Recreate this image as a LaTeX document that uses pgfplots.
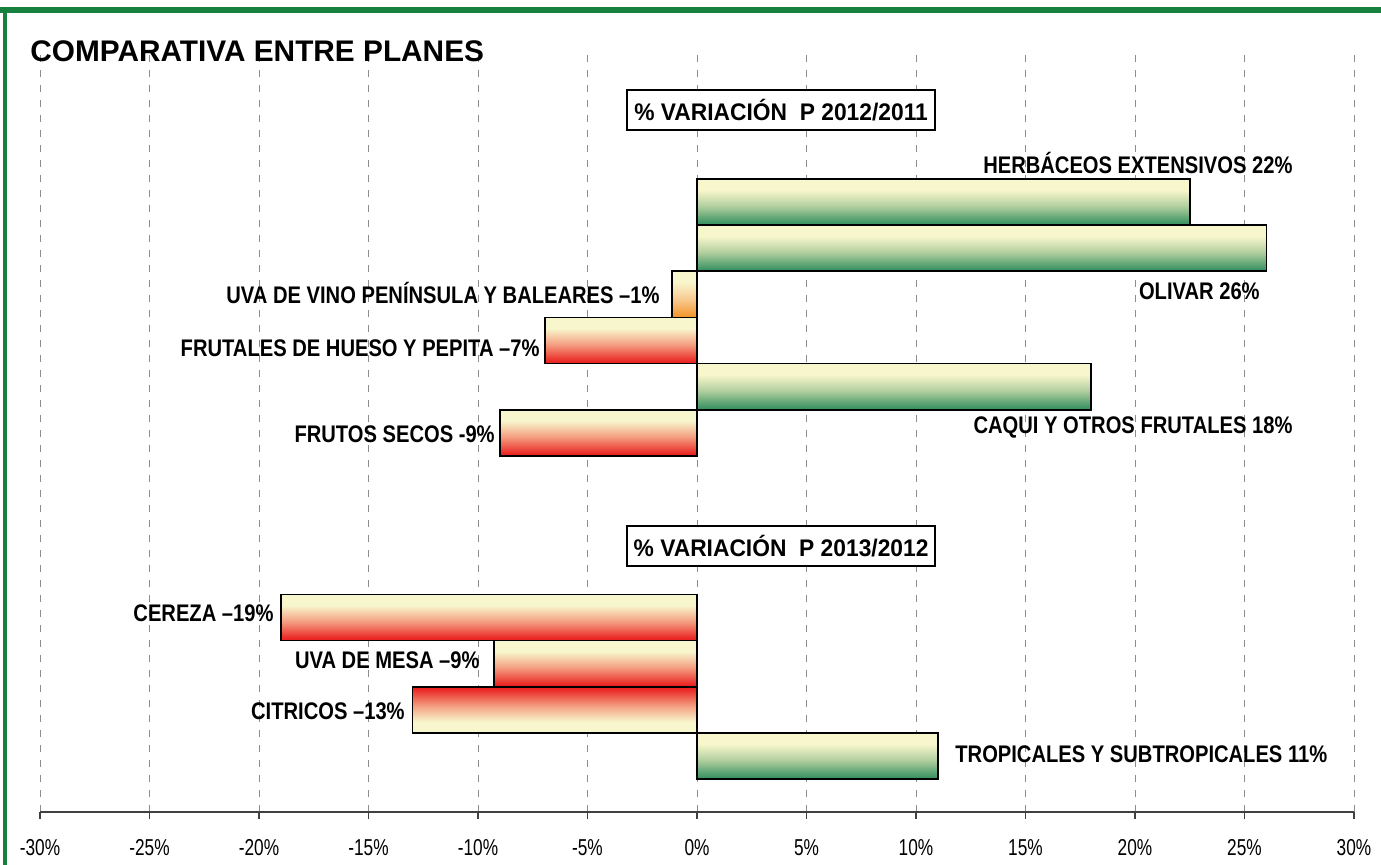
\documentclass[border=0pt]{standalone}
\usepackage{fontspec}
\usepackage{pgfplots}
\pgfplotsset{compat=1.18}
\setmainfont{Liberation Sans}
\newfontfamily\ticknarrow[FakeStretch=0.75]{Liberation Sans}
\newfontfamily\labnarrow[FakeStretch=0.84]{Liberation Sans Bold}
\newfontfamily\boxfont[FakeStretch=0.95]{Liberation Sans Bold}

\definecolor{cream}{RGB}{248,246,204}
\definecolor{gbot}{RGB}{58,146,98}
\definecolor{gmid}{RGB}{180,208,160}
\definecolor{rbot}{RGB}{234,36,34}
\definecolor{rmid}{RGB}{244,160,130}
\definecolor{obot}{RGB}{244,152,50}
\definecolor{omid}{RGB}{247,205,150}
\definecolor{framegreen}{RGB}{24,128,62}

\pgfdeclareverticalshading{greenbar}{100bp}{color(0bp)=(gbot); color(27bp)=(gbot); color(46bp)=(gmid); color(63bp)=(cream); color(100bp)=(cream)}
\pgfdeclareverticalshading{redbar}{100bp}{color(0bp)=(rbot); color(27bp)=(rbot); color(46bp)=(rmid); color(63bp)=(cream); color(100bp)=(cream)}
\pgfdeclareverticalshading{redbarrev}{100bp}{color(0bp)=(cream); color(37bp)=(cream); color(54bp)=(rmid); color(73bp)=(rbot); color(100bp)=(rbot)}
\pgfdeclareverticalshading{orangebar}{100bp}{color(0bp)=(obot); color(27bp)=(obot); color(46bp)=(omid); color(63bp)=(cream); color(100bp)=(cream)}

\begin{document}
\begin{tikzpicture}
\path[use as bounding box] (0,0) rectangle (690.5pt,432.5pt);
\begin{axis}[
  at={(20pt,26.5pt)}, anchor=south west,
  scale only axis, width=657pt, height=381pt,
  xmin=-30, xmax=30, ymin=-812, ymax=-50,
  axis x line*=bottom, axis y line=none,
  axis line style={draw=black!75, line width=0.6pt},
  xtick={-30,-25,-20,-15,-10,-5,0,5,10,15,20,25,30},
  xticklabels={-30\%,-25\%,-20\%,-15\%,-10\%,-5\%,0\%,5\%,10\%,15\%,20\%,25\%,30\%},
  tick align=outside,
  major tick length=3.5pt,
  xtick style={draw=black!75, line width=0.6pt},
  xticklabel style={font=\ticknarrow\fontsize{11.5pt}{13pt}\selectfont, text height=8.2pt, text depth=0pt, inner sep=0pt, anchor=north, yshift=-10pt},
  xmajorgrids,
  major grid style={draw=black!45, line width=0.5pt, dash pattern=on 3.5pt off 4pt},
  clip=false,
  barstyle/.style={xbar, bar width=46.17, bar shift=0pt, draw=black, line width=0.8pt, shade, shading=#1},
]
% 2012/2011
\addplot[barstyle=greenbar]  coordinates {(22.5,-202)};
\addplot[barstyle=greenbar]  coordinates {(26,-248.17)};
\addplot[barstyle=orangebar] coordinates {(-1.15,-294.33)};
\addplot[barstyle=redbar]    coordinates {(-6.95,-340.5)};
\addplot[barstyle=greenbar]  coordinates {(18,-386.67)};
\addplot[barstyle=redbar]    coordinates {(-9,-432.83)};
% 2013/2012
\addplot[barstyle=redbar]    coordinates {(-19,-617.5)};
\addplot[barstyle=redbar]    coordinates {(-9.27,-663.67)};
\addplot[barstyle=redbarrev] coordinates {(-13,-709.83)};
\addplot[barstyle=greenbar]  coordinates {(11,-756)};

\tikzset{lab/.style={inner sep=0pt, font=\labnarrow\fontsize{12pt}{14pt}\selectfont}}
\node[lab, anchor=base east] at (axis cs:27.21,-174) {HERBÁCEOS EXTENSIVOS 22\%};
\node[lab, anchor=base east] at (axis cs:25.71,-300) {OLIVAR 26\%};
\node[lab, anchor=base east] at (axis cs:-1.69,-304) {UVA DE VINO PENÍNSULA Y BALEARES –1\%};
\node[lab, anchor=base east] at (axis cs:-7.17,-357) {FRUTALES DE HUESO Y PEPITA –7\%};
\node[lab, anchor=base east] at (axis cs:27.21,-434) {CAQUI Y OTROS FRUTALES 18\%};
\node[lab, anchor=base east] at (axis cs:-9.22,-443) {FRUTOS SECOS -9\%};
\node[lab, anchor=base east] at (axis cs:-19.32,-622) {CEREZA –19\%};
\node[lab, anchor=base east] at (axis cs:-9.91,-669) {UVA DE MESA –9\%};
\node[lab, anchor=base east] at (axis cs:-13.33,-720) {CITRICOS –13\%};
\node[lab, anchor=base west] at (axis cs:11.78,-763) {TROPICALES Y SUBTROPICALES 11\%};

\tikzset{boxlab/.style={draw=black, line width=1pt, fill=white, inner sep=0pt, minimum width=154pt, minimum height=20pt, font=\boxfont\fontsize{12pt}{14pt}\selectfont}}
\node[boxlab] at (axis cs:3.84,-110) {\% VARIACIÓN\ \ P 2012/2011};
\node[boxlab] at (axis cs:3.84,-546) {\% VARIACIÓN\ \ P 2013/2012};
\end{axis}
\node[anchor=base west, inner sep=0pt, font=\bfseries\fontsize{14.9pt}{17pt}\selectfont] at (15pt,401.5pt) {COMPARATIVA ENTRE PLANES};
\draw[framegreen, line width=3pt] (0,427.5pt) -- (690.5pt,427.5pt);
\draw[framegreen, line width=2.3pt] (2.5pt,0) -- (2.5pt,429pt);
\end{tikzpicture}
\end{document}
